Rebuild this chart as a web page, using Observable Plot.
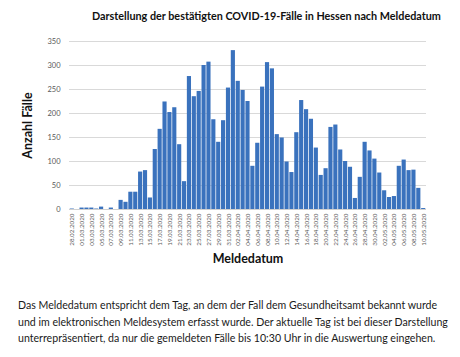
<!DOCTYPE html>
<html>
<head>
<meta charset="utf-8">
<script src="https://cdn.jsdelivr.net/npm/d3@7"></script>
<script src="https://cdn.jsdelivr.net/npm/@observablehq/plot@0.6"></script>
<style>
  html, body { margin: 0; padding: 0; background: #fff; }
  body { width: 460px; height: 357px; overflow: hidden; position: relative; font-family: Lato, "Open Sans", sans-serif; }
  #chart { position: absolute; left: 0; top: 0; z-index: 0; }
  #title { position: absolute; left: 92px; top: 9px; text-align: left; font-weight: bold; font-size: 10.8px; color: #111; white-space: nowrap; z-index: 2; }
  #caption { position: absolute; left: 18px; top: 297px; width: 440px; font-size: 10.6px; line-height: 16.5px; color: #1a1a1a; white-space: nowrap; z-index: 2; }
</style>
</head>
<body>
<div id="chart"></div>
<div id="title"></div>
<div id="caption"></div>
<script>
const title = "Darstellung der bestätigten COVID-19-Fälle in Hessen nach Meldedatum";
const yLabel = "Anzahl Fälle";
const xLabel = "Meldedatum";
const captionLines = [
  "Das Meldedatum entspricht dem Tag, an dem der Fall dem Gesundheitsamt bekannt wurde",
  "und im elektronischen Meldesystem erfasst wurde. Der aktuelle Tag ist bei dieser Darstellung",
  "unterrepräsentiert, da nur die gemeldeten Fälle bis 10:30 Uhr in die Auswertung eingehen."
];

const dates = [
  "28.02.2020","29.02.2020",
  "01.03.2020","02.03.2020","03.03.2020","04.03.2020","05.03.2020","06.03.2020","07.03.2020","08.03.2020","09.03.2020","10.03.2020",
  "11.03.2020","12.03.2020","13.03.2020","14.03.2020","15.03.2020","16.03.2020","17.03.2020","18.03.2020","19.03.2020","20.03.2020",
  "21.03.2020","22.03.2020","23.03.2020","24.03.2020","25.03.2020","26.03.2020","27.03.2020","28.03.2020","29.03.2020","30.03.2020","31.03.2020",
  "01.04.2020","02.04.2020","03.04.2020","04.04.2020","05.04.2020","06.04.2020","07.04.2020","08.04.2020","09.04.2020","10.04.2020",
  "11.04.2020","12.04.2020","13.04.2020","14.04.2020","15.04.2020","16.04.2020","17.04.2020","18.04.2020","19.04.2020","20.04.2020",
  "21.04.2020","22.04.2020","23.04.2020","24.04.2020","25.04.2020","26.04.2020","27.04.2020","28.04.2020","29.04.2020","30.04.2020",
  "01.05.2020","02.05.2020","03.05.2020","04.05.2020","05.05.2020","06.05.2020","07.05.2020","08.05.2020","09.05.2020","10.05.2020"
];

const cases = [
  1, 0,
  3, 3, 3, 1, 5, 0, 3, 0, 19, 15,
  36, 36, 78, 81, 24, 125, 167, 224, 202, 212,
  135, 58, 277, 235, 246, 300, 307, 187, 140, 185, 253,
  331, 267, 248, 225, 90, 138, 255, 306, 293, 156,
  149, 99, 77, 160, 227, 208, 188, 128, 71, 85,
  171, 176, 124, 100, 88, 23, 67, 140, 122, 105,
  76, 39, 25, 27, 90, 103, 81, 82, 44, 2
];

const xTickLabels = [
  "28.02.2020","01.03.2020","03.03.2020","05.03.2020","07.03.2020","09.03.2020","11.03.2020","13.03.2020","15.03.2020","17.03.2020",
  "19.03.2020","21.03.2020","23.03.2020","25.03.2020","27.03.2020","29.03.2020","31.03.2020","02.04.2020","04.04.2020","06.04.2020",
  "08.04.2020","10.04.2020","12.04.2020","14.04.2020","16.04.2020","18.04.2020","20.04.2020","22.04.2020","24.04.2020","26.04.2020",
  "28.04.2020","30.04.2020","02.05.2020","04.05.2020","06.05.2020","08.05.2020","10.05.2020"
];
const yTicks = [0, 50, 100, 150, 200, 250, 300, 350];

const data = dates.map((d, i) => ({date: d, value: cases[i]}));

document.getElementById("title").textContent = title;
const cap = document.getElementById("caption");
captionLines.forEach(l => { const div = document.createElement("div"); div.textContent = l; cap.appendChild(div); });

const chart = Plot.plot({
  width: 460,
  height: 280,
  marginTop: 41,
  marginBottom: 71,
  marginLeft: 69,
  marginRight: 34,
  style: { fontFamily: "Lato, 'Open Sans', sans-serif", background: "transparent" },
  x: { type: "band", domain: dates, padding: 0.15 },
  y: { domain: [0, 350] },
  marks: [
    Plot.gridY(yTicks, { stroke: "#d9d9d9", strokeOpacity: 1, strokeWidth: 1 }),
    Plot.barY(data, { x: "date", y: "value", fill: "#3a72bd" }),
    Plot.ruleY([0], { stroke: "#d0d0d0", strokeWidth: 1 }),
    Plot.axisY(yTicks, { tickSize: 0, tickPadding: 9, fontSize: 7.5, fill: "#595959", label: null }),
    Plot.axisX(xTickLabels, { tickSize: 0, tickPadding: 4, tickRotate: -90, fontSize: 6.3, fill: "#595959", label: null }),
    Plot.text([yLabel], { frameAnchor: "left", rotate: -90, dx: -42, textAnchor: "middle", fontWeight: "bold", fontSize: 12.5, fill: "#111" }),
    Plot.text([xLabel], { frameAnchor: "bottom", dy: 53, textAnchor: "middle", fontWeight: "bold", fontSize: 12.5, fill: "#111" })
  ]
});
document.getElementById("chart").appendChild(chart);
</script>
</body>
</html>
